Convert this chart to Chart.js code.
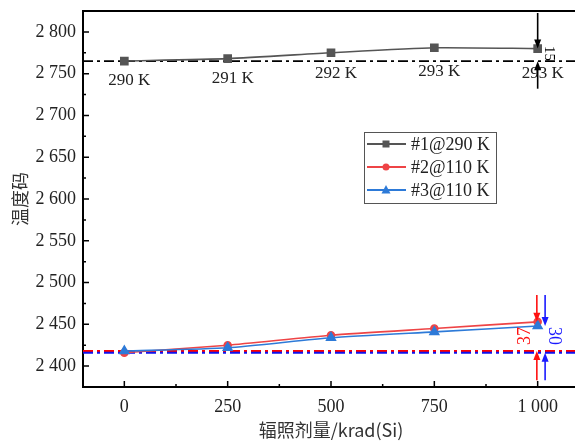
<!DOCTYPE html>
<html>
<head>
<meta charset="utf-8">
<script src="https://cdn.jsdelivr.net/npm/chart.js@4.4.1/dist/chart.umd.min.js"></script>
<style>
  html, body { margin: 0; padding: 0; background: #fff; overflow: hidden; }
  #wrap { width: 582px; height: 443px; }
</style>
</head>
<body>
<div id="wrap"><canvas id="chart" width="582" height="443"></canvas></div>
<script>
// radiation dose (krad(Si))
const doses = [0, 250, 500, 750, 1000];
// temperature codes
const code1 = [2765, 2768, 2775, 2781, 2780];   // #1@290 K
const code2 = [2416, 2425, 2437, 2445, 2453];   // #2@110 K
const code3 = [2418, 2422, 2434, 2441, 2448];   // #3@110 K
const tempLabels = ['290 K', '291 K', '292 K', '293 K', '293 K'];
const seriesNames = ['#1@290 K', '#2@110 K', '#3@110 K'];

// baselines (dash-dot) and deltas at 1000 krad
const base1 = 2765, base2 = 2418, base3 = 2416;
const deltaText = ['15', '37', '30'];

const xTicks = [0, 250, 500, 750, 1000];
const yTicks = [2400, 2450, 2500, 2550, 2600, 2650, 2700, 2750, 2800];
const xMinor = [125, 375, 625, 875];
const yMinor = [2375, 2425, 2475, 2525, 2575, 2625, 2675, 2725, 2775, 2825];

const GRAY = '#555555', RED = '#ee4446', BLUE = '#2d7ad8';
const serif = "'Liberation Serif', 'Times New Roman', serif";
const cjk = "'Noto Sans CJK SC', sans-serif";

const fmt = v => String(v).replace(/\B(?=(\d{3})+(?!\d))/g, ' ');
const pts = (xs, ys) => xs.map((x, i) => ({ x: x, y: ys[i] }));
const hline = y => [{ x: -100, y: y }, { x: 1100, y: y }];

function arrow(ctx, x, y1, y2, color) {
    // line from y1 to y2 with head at y2
    const dir = y2 > y1 ? 1 : -1;
    ctx.save();
    ctx.strokeStyle = color;
    ctx.fillStyle = color;
    ctx.lineWidth = 1.6;
    ctx.beginPath();
    ctx.moveTo(x, y1);
    ctx.lineTo(x, y2 - dir * 6);
    ctx.stroke();
    ctx.beginPath();
    ctx.moveTo(x, y2);
    ctx.lineTo(x - 3.5, y2 - dir * 9);
    ctx.lineTo(x + 3.5, y2 - dir * 9);
    ctx.closePath();
    ctx.fill();
    ctx.restore();
}

function vtext(ctx, str, x, y, rot, color, size) {
    ctx.save();
    ctx.translate(x, y);
    ctx.rotate(rot);
    ctx.fillStyle = color;
    ctx.font = size + 'px ' + serif;
    ctx.textAlign = 'center';
    ctx.textBaseline = 'middle';
    ctx.fillText(str, 0, 0);
    ctx.restore();
}

function marker(ctx, kind, x, y, color) {
    ctx.save();
    ctx.fillStyle = color;
    ctx.beginPath();
    if (kind === 'rect') ctx.rect(x - 3.5, y - 3.5, 7, 7);
    else if (kind === 'circle') ctx.arc(x, y, 3.5, 0, Math.PI * 2);
    else { ctx.moveTo(x, y - 5); ctx.lineTo(x - 4.5, y + 3.5); ctx.lineTo(x + 4.5, y + 3.5); ctx.closePath(); }
    ctx.fill();
    ctx.restore();
}

const extras = {
    id: 'extras',
    afterDraw(chart) {
        const ctx = chart.ctx;
        const xs = chart.scales.x, ys = chart.scales.y;
        const a = chart.chartArea;

        // frame top / right
        ctx.save();
        ctx.strokeStyle = '#000';
        ctx.lineWidth = 2;
        ctx.beginPath();
        ctx.moveTo(a.left, a.top);
        ctx.lineTo(a.right, a.top);
        ctx.lineTo(a.right, a.bottom);
        ctx.stroke();

        // inward ticks
        ctx.lineWidth = 1.5;
        ctx.beginPath();
        xTicks.forEach(v => { const p = xs.getPixelForValue(v); ctx.moveTo(p, a.bottom); ctx.lineTo(p, a.bottom - 6); });
        xMinor.forEach(v => { const p = xs.getPixelForValue(v); ctx.moveTo(p, a.bottom); ctx.lineTo(p, a.bottom - 3); });
        yTicks.forEach(v => { const p = ys.getPixelForValue(v); ctx.moveTo(a.left, p); ctx.lineTo(a.left + 6, p); });
        yMinor.forEach(v => { const p = ys.getPixelForValue(v); ctx.moveTo(a.left, p); ctx.lineTo(a.left + 3, p); });
        ctx.stroke();
        ctx.restore();

        // temperature labels under series #1
        const drop = [19, 20, 21, 24, 25];
        ctx.save();
        ctx.font = '17px ' + serif;
        ctx.fillStyle = '#222';
        ctx.textAlign = 'center';
        ctx.textBaseline = 'middle';
        doses.forEach((d, i) => {
            ctx.fillText(tempLabels[i], xs.getPixelForValue(d) + 5, ys.getPixelForValue(code1[i]) + drop[i]);
        });
        ctx.restore();

        // delta arrows at 1000 krad
        const xb = xs.getPixelForValue(1000);
        const xr = xs.getPixelForValue(998);
        const xl = xs.getPixelForValue(1018);
        arrow(ctx, xb, a.top + 2, ys.getPixelForValue(code1[4]), '#000');
        arrow(ctx, xb, ys.getPixelForValue(2732), ys.getPixelForValue(base1), '#000');
        arrow(ctx, xr, ys.getPixelForValue(2485), ys.getPixelForValue(code2[4]), '#ff1010');
        arrow(ctx, xr, ys.getPixelForValue(2383), ys.getPixelForValue(base2), '#ff1010');
        arrow(ctx, xl, ys.getPixelForValue(2485), ys.getPixelForValue(code3[4]), '#1a1aff');
        arrow(ctx, xl, ys.getPixelForValue(2383), ys.getPixelForValue(base3), '#1a1aff');
        vtext(ctx, deltaText[0], xs.getPixelForValue(1028), ys.getPixelForValue(2774), Math.PI / 2, '#000', 15);
        vtext(ctx, deltaText[1], xs.getPixelForValue(969), ys.getPixelForValue(2436), -Math.PI / 2, '#ff1010', 18);
        vtext(ctx, deltaText[2], xs.getPixelForValue(1038), ys.getPixelForValue(2436), Math.PI / 2, '#1a1aff', 18);

        // legend box
        const lx = 364, ly = 132, lw = 132, lh = 71;
        ctx.save();
        ctx.fillStyle = '#fff';
        ctx.fillRect(lx, ly, lw, lh);
        ctx.strokeStyle = '#555';
        ctx.lineWidth = 1;
        ctx.strokeRect(lx + 0.5, ly + 0.5, lw, lh);
        const cols = [GRAY, RED, BLUE], kinds = ['rect', 'circle', 'triangle'];
        ctx.font = '18px ' + serif;
        ctx.textBaseline = 'middle';
        seriesNames.forEach((n, i) => {
            const yy = ly + 12 + i * 23;
            ctx.strokeStyle = cols[i];
            ctx.lineWidth = 1.8;
            ctx.beginPath();
            ctx.moveTo(lx + 3, yy);
            ctx.lineTo(lx + 42, yy);
            ctx.stroke();
            marker(ctx, kinds[i], lx + 22, yy, cols[i]);
            ctx.fillStyle = '#222';
            ctx.fillText(n, lx + 47, yy + 1);
        });
        ctx.restore();
    }
};

new Chart(document.getElementById('chart'), {
    type: 'line',
    data: {
        datasets: [
            { data: pts(doses, code3), borderColor: BLUE, backgroundColor: BLUE, borderWidth: 1.6,
              pointStyle: 'triangle', pointRadius: 5, tension: 0.2 },
            { data: pts(doses, code2), borderColor: RED, backgroundColor: RED, borderWidth: 1.6,
              pointStyle: 'circle', pointRadius: 3.5, tension: 0.2 },
            { data: pts(doses, code1), borderColor: GRAY, backgroundColor: GRAY, borderWidth: 1.6,
              pointStyle: 'rect', pointRadius: 5, tension: 0.2 },
            { data: hline(base1), borderColor: '#000', borderWidth: 1.8, borderDash: [10, 4, 3, 4], pointRadius: 0 },
            { data: hline(base3), borderColor: '#1010ee', borderWidth: 2, borderDash: [10, 4, 3, 4], pointRadius: 0 },
            { data: hline(base2), borderColor: '#ff0000', borderWidth: 2, borderDash: [10, 4, 3, 4], pointRadius: 0 }
        ]
    },
    options: {
        responsive: false,
        animation: false,
        layout: { autoPadding: false, padding: { top: 11, right: 3, left: 0, bottom: 0 } },
        plugins: { legend: { display: false }, tooltip: { enabled: false } },
        scales: {
            x: {
                type: 'linear', min: -100, max: 1100,
                afterBuildTicks: s => { s.ticks = xTicks.map(v => ({ value: v })); },
                afterFit: s => { s.height = 56; s.paddingLeft = 0; s.paddingRight = 0; },
                border: { color: '#000', width: 2 },
                grid: { display: false, drawTicks: false },
                ticks: { padding: 9, color: '#222', font: { family: serif, size: 18 }, callback: v => fmt(v) },
                title: { display: true, text: '辐照剂量/krad(Si)', color: '#333',
                         font: { family: cjk, size: 18 }, padding: { top: 0, bottom: 2 } }
            },
            y: {
                min: 2375, max: 2825,
                afterBuildTicks: s => { s.ticks = yTicks.map(v => ({ value: v })); },
                afterFit: s => { s.width = 83; s.paddingTop = 0; s.paddingBottom = 0; },
                border: { color: '#000', width: 2 },
                grid: { display: false, drawTicks: false },
                ticks: { padding: 7, color: '#222', font: { family: serif, size: 18 }, callback: v => fmt(v) },
                title: { display: true, text: '温度码', color: '#333',
                         font: { family: cjk, size: 18 }, padding: { top: 9, bottom: 0 } }
            }
        }
    },
    plugins: [extras]
});
</script>
</body>
</html>
